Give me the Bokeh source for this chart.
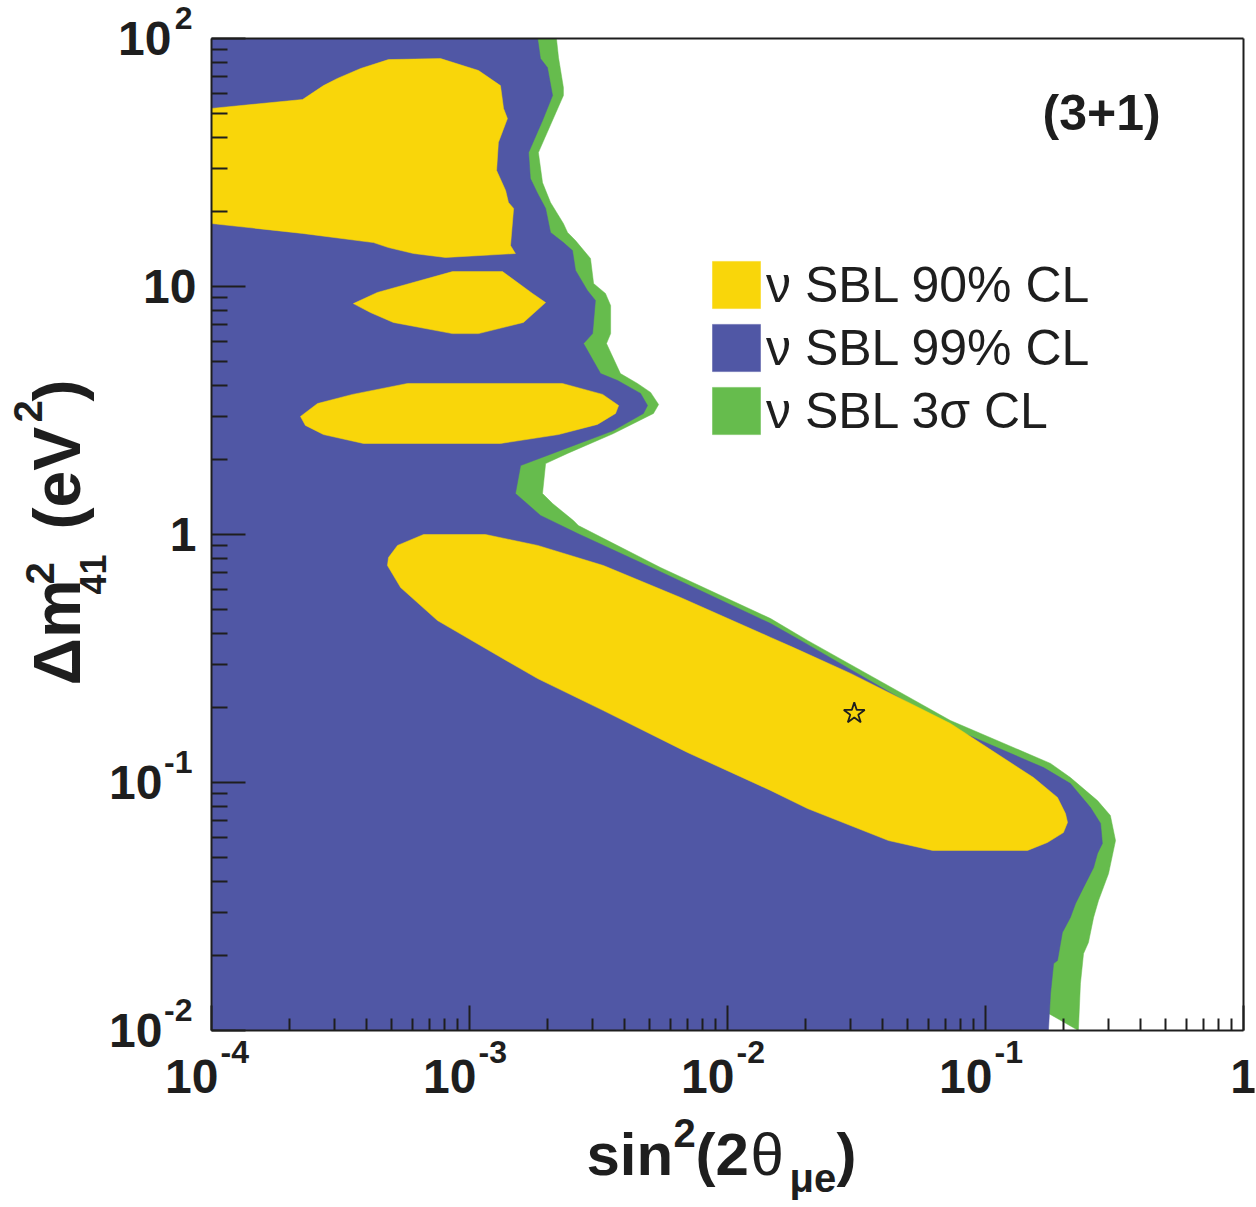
import math
import numpy as np
from bokeh.plotting import figure
from bokeh.models import (Range1d, FixedTicker, CustomJSTickFormatter, Label,
                          Legend, LegendItem, LogAxis)
from bokeh.embed import file_html
from bokeh.resources import INLINE

# ---------------- data (contours given as log10 of the axis values) ----------------
# 3 sigma CL: right-hand boundary, top to bottom
green_edge_log_s2 = [-2.663, -2.655, -2.636, -2.636, -2.733, -2.717, -2.686, -2.636, -2.620, -2.589,
                     -2.531, -2.519, -2.473, -2.453, -2.453, -2.469, -2.415, -2.349, -2.298, -2.267,
                     -2.287, -2.442, -2.620, -2.705, -2.717, -2.678, -2.597, -2.578, -2.260, -1.833,
                     -1.690, -1.136, -0.748, -0.671, -0.566, -0.516, -0.496, -0.523, -0.562, -0.581,
                     -0.601, -0.620, -0.632, -0.640, -0.756]
green_edge_log_dm2 = [2.0, 1.923, 1.802, 1.770, 1.540, 1.419, 1.339, 1.254, 1.218, 1.185,
                      1.113, 1.012, 0.972, 0.923, 0.810, 0.770, 0.649, 0.609, 0.573, 0.524,
                      0.488, 0.407, 0.327, 0.286, 0.165, 0.125, 0.056, 0.036, -0.133, -0.339,
                      -0.427, -0.750, -0.923, -0.980, -1.073, -1.133, -1.234, -1.367, -1.476, -1.544,
                      -1.645, -1.690, -1.810, -2.0, -1.931]

# 99% CL: right-hand boundary, top to bottom
blue_edge_log_s2 = [-2.736, -2.725, -2.698, -2.678, -2.717, -2.771, -2.764, -2.736, -2.705, -2.686,
                    -2.636, -2.601, -2.589, -2.543, -2.512, -2.523, -2.558, -2.492, -2.426, -2.337,
                    -2.310, -2.326, -2.442, -2.647, -2.802, -2.822, -2.791, -2.725, -2.581, -2.287,
                    -1.833, -1.717, -1.136, -0.775, -0.671, -0.593, -0.554, -0.547, -0.566, -0.581,
                    -0.620, -0.651, -0.671, -0.702, -0.721, -0.736, -0.748, -0.756]
blue_edge_log_dm2 = [2.0, 1.919, 1.883, 1.770, 1.669, 1.540, 1.435, 1.375, 1.315, 1.218,
                     1.177, 1.145, 1.065, 0.984, 0.944, 0.810, 0.770, 0.649, 0.621, 0.569,
                     0.520, 0.488, 0.419, 0.339, 0.278, 0.165, 0.137, 0.077, 0.004, -0.137,
                     -0.359, -0.427, -0.778, -0.940, -1.004, -1.101, -1.165, -1.246, -1.286, -1.343,
                     -1.423, -1.488, -1.544, -1.605, -1.718, -1.730, -1.851, -2.0]

# 90% CL islands
yellow1_log_s2 = [-4.0, -3.647, -3.566, -3.512, -3.422, -3.314, -3.112, -2.965, -2.880, -2.868,
                  -2.853, -2.888, -2.895, -2.860, -2.849, -2.829, -2.841, -2.822, -3.093, -3.217,
                  -3.314, -3.372, -3.647, -4.0]
yellow1_log_dm2 = [1.718, 1.754, 1.810, 1.839, 1.879, 1.915, 1.919, 1.871, 1.810, 1.718,
                   1.677, 1.581, 1.468, 1.387, 1.339, 1.315, 1.165, 1.133, 1.117, 1.133,
                   1.157, 1.177, 1.214, 1.254]
yellow2_log_s2 = [-3.450, -3.357, -3.066, -2.872, -2.756, -2.705, -2.791, -2.965, -3.066, -3.295, -3.384]
yellow2_log_dm2 = [0.931, 0.976, 1.060, 1.060, 0.972, 0.935, 0.855, 0.810, 0.810, 0.855, 0.895]
yellow3_log_s2 = [-3.655, -3.589, -3.453, -3.240, -2.640, -2.484, -2.422, -2.434, -2.504, -2.655,
                  -2.880, -3.411, -3.566, -3.636]
yellow3_log_dm2 = [0.476, 0.528, 0.565, 0.609, 0.609, 0.565, 0.520, 0.488, 0.444, 0.403,
                   0.367, 0.367, 0.403, 0.440]
yellow4_log_s2 = [-3.318, -3.314, -3.279, -3.178, -2.938, -2.736, -2.481, -2.182, -1.833, -1.744,
                  -1.523, -1.136, -0.814, -0.721, -0.690, -0.682, -0.698, -0.760, -0.837, -1.205,
                  -1.376, -1.690, -1.833, -2.155, -2.481, -2.736, -2.891, -3.124, -3.267]
yellow4_log_dm2 = [-0.125, -0.093, -0.044, 0.0, 0.0, -0.044, -0.125, -0.254, -0.415, -0.456,
                   -0.560, -0.762, -0.980, -1.060, -1.125, -1.161, -1.202, -1.242, -1.274, -1.274,
                   -1.234, -1.105, -1.032, -0.879, -0.710, -0.581, -0.488, -0.347, -0.214]

best_fit_sin2 = [0.031]
best_fit_dm2 = [0.19]

x_major_ticks = [1e-4, 1e-3, 1e-2, 1e-1, 1.0]
x_tick_base = ["10", "10", "10", "10", "1"]
x_tick_exp = ["-4", "-3", "-2", "-1", ""]
y_major_ticks = [1e-2, 1e-1, 1.0, 10.0, 100.0]
y_tick_base = ["10", "10", "1", "10", "10"]
y_tick_exp = ["-2", "-1", "", "", "2"]

legend_labels = ["\u03bd SBL 90% CL", "\u03bd SBL 99% CL", "\u03bd SBL 3\u03c3 CL"]
model_label = "(3+1)"

X_MIN, X_MAX = 1e-4, 1.0
Y_MIN, Y_MAX = 1e-2, 1e2

YELLOW = "#F9D60A"
BLUE = "#5057A5"
GREEN = "#66BC4D"
INK = "#1e1e1e"
FONT = "Liberation Sans"

# ---------------- layout: the drawing frame covers the page, the plot box sits inside ----------------
BORDER = 2
FRAME_W, FRAME_H = 1252, 1203
BOX_L, BOX_R, BOX_T, BOX_B = 211, 1243, 38, 1030          # plot box in page pixels
lx0, lx1 = math.log10(X_MIN), math.log10(X_MAX)
ly0, ly1 = math.log10(Y_MIN), math.log10(Y_MAX)
dec_px_x = (BOX_R - BOX_L) / (lx1 - lx0)
dec_px_y = (BOX_B - BOX_T) / (ly1 - ly0)
xr = Range1d(10 ** (lx0 + (BORDER - BOX_L) / dec_px_x),
             10 ** (lx0 + (BORDER + FRAME_W - BOX_L) / dec_px_x))
yr = Range1d(10 ** (ly0 - (BORDER + FRAME_H - BOX_B) / dec_px_y),
             10 ** (ly1 + (BOX_T - BORDER) / dec_px_y))

p = figure(x_axis_type="log", y_axis_type="log", x_range=xr, y_range=yr,
           frame_width=FRAME_W, frame_height=FRAME_H,
           min_border_left=BORDER, min_border_right=BORDER,
           min_border_top=BORDER, min_border_bottom=BORDER,
           output_backend="svg", toolbar_location=None,
           background_fill_color="white", border_fill_color="white")
p.grid.visible = False
p.outline_line_alpha = 0
bottom_axis = p.below[0]
left_axis = p.left[0]


def lg(vals):
    return list(10 ** np.array(vals, dtype=float))


green_x = lg([lx0] + green_edge_log_s2 + [lx0])
green_y = lg([ly1] + green_edge_log_dm2 + [green_edge_log_dm2[-1]])
blue_x = lg([lx0] + blue_edge_log_s2 + [lx0])
blue_y = lg([ly1] + blue_edge_log_dm2 + [ly0])

r_green = p.patch(green_x, green_y, fill_color=GREEN, line_color=GREEN, line_width=0.5)
r_blue = p.patch(blue_x, blue_y, fill_color=BLUE, line_color=BLUE, line_width=0.5)
r_yellow = p.patches([lg(yellow1_log_s2), lg(yellow2_log_s2), lg(yellow3_log_s2), lg(yellow4_log_s2)],
                     [lg(yellow1_log_dm2), lg(yellow2_log_dm2), lg(yellow3_log_dm2), lg(yellow4_log_dm2)],
                     fill_color=YELLOW, line_color=YELLOW, line_width=0.5)

p.scatter(best_fit_sin2, best_fit_dm2, marker="star", size=22,
          fill_alpha=0, line_color=INK, line_width=1.8)

# ---------------- axes (placed on the plot box) ----------------
x_minor = [k * 10.0 ** n for n in range(-4, 0) for k in range(2, 10)]
y_minor = [k * 10.0 ** n for n in range(-2, 2) for k in range(2, 10)]
bottom_axis.ticker = FixedTicker(ticks=x_major_ticks, minor_ticks=x_minor)
left_axis.ticker = FixedTicker(ticks=y_major_ticks, minor_ticks=y_minor)
bottom_axis.fixed_location = Y_MIN
bottom_axis.bounds = (X_MIN, X_MAX)
left_axis.fixed_location = X_MIN
left_axis.bounds = (Y_MIN, Y_MAX)

top_axis = LogAxis(fixed_location=Y_MAX, bounds=(X_MIN, X_MAX),
                   ticker=FixedTicker(ticks=[], minor_ticks=[]))
right_axis = LogAxis(fixed_location=X_MAX, bounds=(Y_MIN, Y_MAX),
                     ticker=FixedTicker(ticks=[], minor_ticks=[]))
p.add_layout(top_axis, "above")
p.add_layout(right_axis, "right")

for ax in (bottom_axis, left_axis, top_axis, right_axis):
    ax.formatter = CustomJSTickFormatter(code="return ''")
    ax.major_label_text_font_size = "1px"
    ax.major_label_text_color = None
    ax.major_label_text_alpha = 0
    ax.axis_line_color = INK
    ax.axis_line_width = 2
    ax.major_tick_line_color = INK
    ax.minor_tick_line_color = INK
    ax.major_tick_line_width = 2
    ax.minor_tick_line_width = 2
    ax.major_tick_out = 0
    ax.minor_tick_out = 0
    ax.major_label_standoff = 0
bottom_axis.major_tick_in = 25
bottom_axis.minor_tick_in = 12
left_axis.major_tick_in = 34
left_axis.minor_tick_in = 16
for ax in (top_axis, right_axis):
    ax.major_tick_in = 0
    ax.minor_tick_in = 0


# ---------------- text helper ----------------
def lab(x, y, dx, dy, text, size, align="left", angle=0.0, style="bold"):
    """dx, dy: pixel offset of the text baseline start from the data anchor."""
    lift = 0.35 * size + 2          # Bokeh anchors the text a little above its baseline
    if angle:
        dx -= lift
    else:
        dy += lift
    p.add_layout(Label(x=x, y=y, x_offset=dx, y_offset=dy, text=text, angle=angle,
                       text_font=FONT, text_font_style=style, text_color=INK,
                       text_font_size=f"{size}px", text_align=align,
                       text_baseline="alphabetic"))


# ---------------- tick labels ----------------
TICK, SUP = 48, 32
for v, base, exp in zip(x_major_ticks, x_tick_base, x_tick_exp):
    if exp:
        lab(v, Y_MIN, 7, -65, base, TICK, "right")
        lab(v, Y_MIN, 9, -35, exp, SUP, "left")
    else:
        lab(v, Y_MIN, 0, -65, base, TICK, "center")

for v, base, exp in zip(y_major_ticks, y_tick_base, y_tick_exp):
    if exp:
        w = 17 if len(exp) == 1 else 26
        lab(X_MIN, v, -19, 7, exp, SUP, "right")
        lab(X_MIN, v, -19 - w - 4, -19, base, TICK, "right")
    else:
        lab(X_MIN, v, -15, -19, base, TICK, "right")

# ---------------- axis titles (offsets from the lower-left corner of the plot box) ----------------
# x title: sin^2(2 theta_mu e)
lab(X_MIN, Y_MIN, 375, -147, "sin", 60)
lab(X_MIN, Y_MIN, 462, -118, "2", 40)
lab(X_MIN, Y_MIN, 484, -147, "(2", 60)
lab(X_MIN, Y_MIN, 539, -147, "\u03b8", 60, style="normal")
lab(X_MIN, Y_MIN, 578, -163, "\u03bce", 40)
lab(X_MIN, Y_MIN, 625, -147, ")", 60)

# y title: Delta m^2_41 (eV^2), rotated
A = math.pi / 2
lab(X_MIN, Y_MIN, -129, 345, "\u0394m", 66, angle=A)
lab(X_MIN, Y_MIN, -156, 446, "2", 40, angle=A)
lab(X_MIN, Y_MIN, -104, 436, "41", 36, angle=A)
lab(X_MIN, Y_MIN, -129, 501, "(eV", 66, angle=A)
lab(X_MIN, Y_MIN, -168, 608, "2", 40, angle=A)
lab(X_MIN, Y_MIN, -129, 629, ")", 66, angle=A)

# model label
lab(X_MIN, Y_MIN, 831, 898, model_label, 50)

# ---------------- legend ----------------
legend = Legend(items=[LegendItem(label=legend_labels[0], renderers=[r_yellow]),
                       LegendItem(label=legend_labels[1], renderers=[r_blue]),
                       LegendItem(label=legend_labels[2], renderers=[r_green])],
                location=(706 - BORDER, BORDER + FRAME_H - 440), orientation="vertical",
                glyph_width=60, glyph_height=59, label_height=59, label_width=300,
                spacing=4, padding=0, margin=0, label_standoff=0,
                label_text_font=FONT, label_text_font_size="50px", label_text_color=INK,
                label_text_baseline="middle",
                border_line_alpha=0, background_fill_alpha=0)
p.add_layout(legend)

open("out.html", "w").write(file_html(p, INLINE))
